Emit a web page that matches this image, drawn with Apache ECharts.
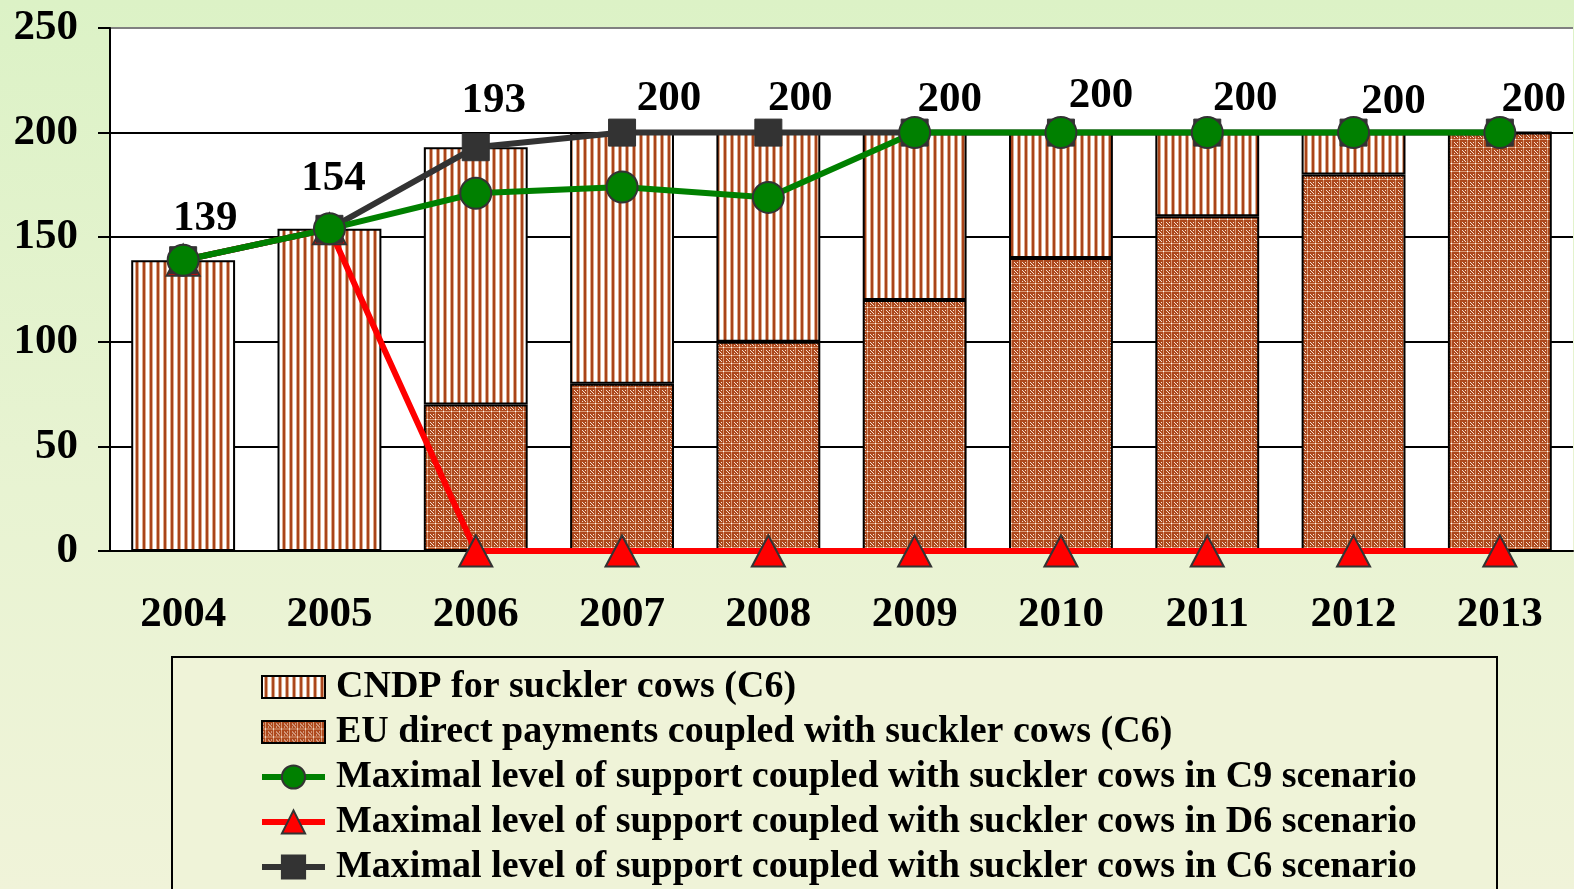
<!DOCTYPE html>
<html>
<head>
<meta charset="utf-8">
<script src="https://cdn.jsdelivr.net/npm/echarts@6/dist/echarts.min.js"></script>
<style>
html, body { margin: 0; padding: 0; }
#chart {
  width: 1574px;
  height: 889px;
  background: linear-gradient(to bottom, #dcf2c6 0%, #e8f3d2 55%, #f0f3d9 100%);
}
</style>
</head>
<body>
<div id="chart"></div>
<script>
// data
const years = ['2004', '2005', '2006', '2007', '2008', '2009', '2010', '2011', '2012', '2013'];
const cndp = [139, 154, 123, 120, 100, 80, 60, 40, 20, 0];
const euDirect = [0, 0, 70, 80, 100, 120, 140, 160, 180, 200];
const maxC9 = [139, 154, 171, 174, 169, 200, 200, 200, 200, 200];
const maxD6 = [139, 154, 0, 0, 0, 0, 0, 0, 0, 0];
const maxC6 = [139, 154, 193, 200, 200, 200, 200, 200, 200, 200];
const yTicks = [0, 50, 100, 150, 200, 250];

const FONT = '"Liberation Serif", "Times New Roman", serif';

// stripe pattern for CNDP bars
function stripePattern() {
  const c = document.createElement('canvas');
  c.width = 7; c.height = 4;
  const g = c.getContext('2d');
  g.fillStyle = '#ffffff'; g.fillRect(0, 0, 7, 4);
  g.fillStyle = '#dcab8c'; g.fillRect(2, 0, 1, 4); g.fillRect(5, 0, 1, 4);
  g.fillStyle = '#a9441a'; g.fillRect(3, 0, 2, 4);
  return c;
}

// small crosshatch for EU direct payments bars
function crossPattern() {
  const c = document.createElement('canvas');
  c.width = 8; c.height = 8;
  const g = c.getContext('2d');
  g.fillStyle = '#ad481c'; g.fillRect(0, 0, 8, 8);
  // light cross lines
  g.fillStyle = '#d99a76';
  g.fillRect(0, 3, 8, 1); g.fillRect(3, 0, 1, 8);
  // light dots between the crosses
  g.fillStyle = '#f6e2d4';
  g.fillRect(0, 0, 1, 1); g.fillRect(6, 6, 1, 1);
  g.fillRect(7, 7, 1, 1); g.fillRect(1, 1, 1, 1);
  g.fillRect(6, 1, 1, 1); g.fillRect(1, 6, 1, 1);
  g.fillStyle = '#ffffff';
  g.fillRect(3, 3, 1, 1);
  return c;
}

const chart = echarts.init(document.getElementById('chart'));

// label offsets for the values above the C6 line
const labelShift = [[22, -41], [4, -50], [18, -46], [47, -34], [32, -34], [35, -33], [40, -37], [38, -34], [40, -31], [34, -33]];

const barIcon = 'path://M0,0 L63,0 L63,22 L0,22 Z';

const option = {
  animation: false,
  backgroundColor: 'transparent',
  textStyle: { fontFamily: FONT },
  grid: {
    left: 110, right: 1, top: 28, bottom: 338,
    show: true, backgroundColor: '#ffffff', borderWidth: 0
  },
  graphic: [{
    type: 'rect',
    shape: { x: 172, y: 657, width: 1325, height: 250 },
    style: { fill: '#eff3d8', stroke: '#000', lineWidth: 2 },
    z: 0
  }],
  legend: {
    orient: 'vertical',
    left: 259, top: 668, height: 260, padding: 0,
    itemWidth: 63, itemHeight: 29, itemGap: 7,
    lineStyle: { width: 'inherit' },
    data: [
      { name: 'CNDP for suckler cows (C6)', icon: barIcon },
      { name: 'EU direct payments coupled with suckler cows (C6)', icon: barIcon },
      'Maximal level of support coupled with suckler cows in C9 scenario',
      'Maximal level of support coupled with suckler cows in D6 scenario',
      'Maximal level of support coupled with suckler cows in C6 scenario'
    ],
    textStyle: {
      fontFamily: FONT, fontWeight: 'bold', fontSize: 38, lineHeight: 38, color: '#000',
      padding: [0, 0, 0, 6]
    },
    z: 10
  },
  xAxis: {
    type: 'category',
    data: years,
    axisLine: { lineStyle: { color: '#000', width: 2 } },
    axisTick: { length: 10, lineStyle: { color: '#000', width: 2 } },
    axisLabel: {
      fontFamily: FONT, fontWeight: 'bold', fontSize: 43, color: '#000', margin: 42
    }
  },
  yAxis: {
    type: 'value',
    min: yTicks[0], max: yTicks[yTicks.length - 1], interval: 50,
    axisLine: { show: true, lineStyle: { color: '#000', width: 2 } },
    axisTick: { show: true, length: 12, lineStyle: { color: '#000', width: 2 } },
    axisLabel: {
      fontFamily: FONT, fontWeight: 'bold', fontSize: 43, color: '#000', margin: 32
    },
    splitLine: {
      lineStyle: { color: ['#000', '#000', '#000', '#000', '#000', '#808080'], width: 2 }
    }
  },
  series: [
    {
      name: 'EU direct payments coupled with suckler cows (C6)',
      type: 'bar', stack: 'pay', barWidth: '71%',
      data: euDirect,
      itemStyle: {
        color: { image: crossPattern(), repeat: 'repeat' },
        borderColor: '#000', borderWidth: 2
      }
    },
    {
      name: 'CNDP for suckler cows (C6)',
      type: 'bar', stack: 'pay', barWidth: '71%',
      data: cndp,
      itemStyle: {
        color: { image: stripePattern(), repeat: 'repeat' },
        borderColor: '#000', borderWidth: 2
      }
    },
    {
      name: 'Maximal level of support coupled with suckler cows in D6 scenario',
      type: 'line', z: 3, clip: false,
      data: maxD6,
      symbol: 'triangle', symbolSize: [33, 31],
      lineStyle: { color: '#ff0000', width: 6 },
      itemStyle: { color: '#ff0000', borderColor: '#333', borderWidth: 2 }
    },
    {
      name: 'Maximal level of support coupled with suckler cows in C6 scenario',
      type: 'line', z: 4, clip: false,
      data: maxC6.map((v, i) => ({
        value: v,
        label: { offset: labelShift[i] }
      })),
      symbol: 'rect', symbolSize: 27,
      lineStyle: { color: '#333333', width: 6 },
      itemStyle: { color: '#333333', borderColor: '#333', borderWidth: 1 },
      label: {
        show: true,
        position: 'inside',
        fontFamily: FONT,
        fontWeight: 'bold',
        fontSize: 43,
        color: '#000'
      }
    },
    {
      name: 'Maximal level of support coupled with suckler cows in C9 scenario',
      type: 'line', z: 5, clip: false,
      data: maxC9,
      symbol: 'circle', symbolSize: 31,
      lineStyle: { color: '#008000', width: 6 },
      itemStyle: { color: '#008000', borderColor: '#333', borderWidth: 2 }
    }
  ]
};

chart.setOption(option);
window.addEventListener('resize', () => chart.resize());
</script>
</body>
</html>
